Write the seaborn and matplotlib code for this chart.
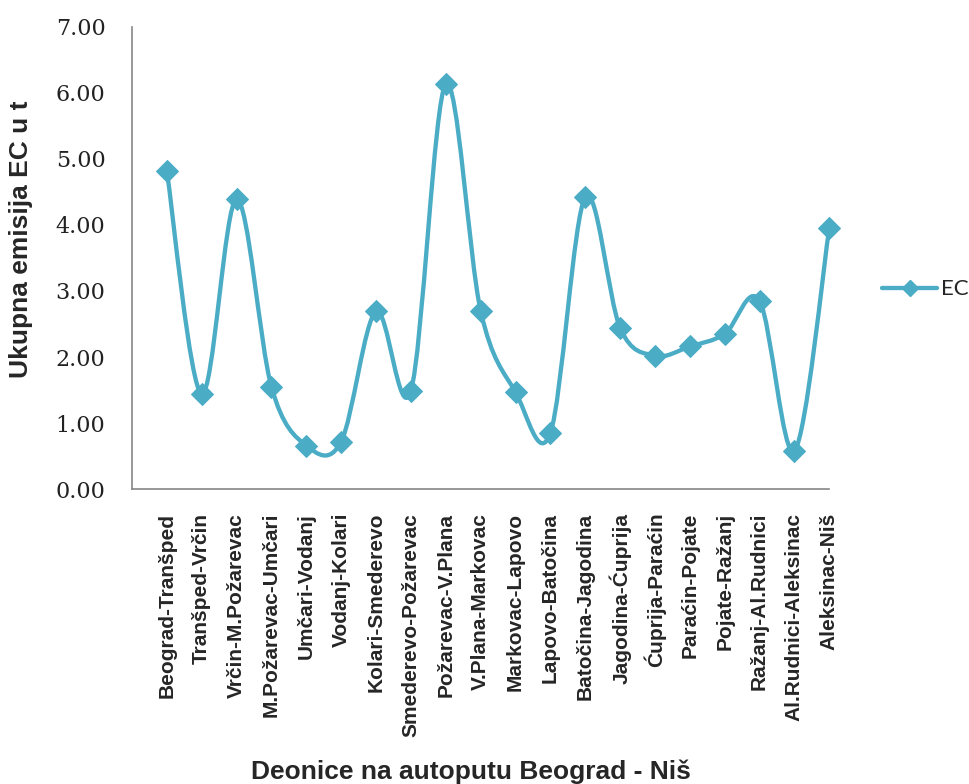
import numpy as np
import pandas as pd
import seaborn as sns
import matplotlib.pyplot as plt
from matplotlib.path import Path
from matplotlib.patches import PathPatch
from matplotlib.lines import Line2D

# Deonice (kategorije) i ukupna emisija EC u t
deonice = [
    "Beograd-Tranšped", "Tranšped-Vrčin", "Vrčin-M.Požarevac", "M.Požarevac-Umčari",
    "Umčari-Vodanj", "Vodanj-Kolari", "Kolari-Smederevo", "Smederevo-Požarevac",
    "Požarevac-V.Plana", "V.Plana-Markovac", "Markovac-Lapovo", "Lapovo-Batočina",
    "Batočina-Jagodina", "Jagodina-Ćuprija", "Ćuprija-Paraćin", "Paraćin-Pojate",
    "Pojate-Ražanj", "Ražanj-Al.Rudnici", "Al.Rudnici-Aleksinac", "Aleksinac-Niš"]
ec = [4.82, 1.44, 4.39, 1.55, 0.66, 0.72, 2.69, 1.49, 6.13, 2.70,
      1.47, 0.85, 4.42, 2.44, 2.02, 2.16, 2.35, 2.85, 0.58, 3.96]
y_ticks = [0, 1, 2, 3, 4, 5, 6, 7]

boja = "#4BACC6"
siva = "#868686"

df = pd.DataFrame({"pozicija": np.arange(len(deonice)), "EC": ec})

sns.set_style("white")
fig = plt.figure(figsize=(9.7, 7.84), dpi=100)
ax = fig.add_axes([0.136, 0.376, 0.719, 0.590])

# Glatka linija (kao Excel "smoothed line") preko Bezier kontrolnih tacaka
x = df["pozicija"].to_numpy(float)
y = df["EC"].to_numpy(float)
verts = [(x[0], y[0])]
codes = [Path.MOVETO]
n = len(x)
for i in range(n - 1):
    p0 = np.array([x[max(i - 1, 0)], y[max(i - 1, 0)]])
    p1 = np.array([x[i], y[i]])
    p2 = np.array([x[i + 1], y[i + 1]])
    p3 = np.array([x[min(i + 2, n - 1)], y[min(i + 2, n - 1)]])
    c1 = p1 + (p2 - p0) / 6
    c2 = p2 - (p3 - p1) / 6
    verts += [tuple(c1), tuple(c2), tuple(p2)]
    codes += [Path.CURVE4] * 3
ax.add_patch(PathPatch(Path(verts, codes), facecolor="none", edgecolor=boja,
                       lw=3.1, capstyle="round", joinstyle="round", zorder=2,
                       clip_on=False))

sns.lineplot(data=df, x="pozicija", y="EC", ax=ax, marker="D", markersize=11,
             linestyle="", color=boja, markeredgecolor=boja, legend=False,
             zorder=3, clip_on=False)

ax.set_xlim(-1, n - 1)
ax.set_ylim(0, 7)
ax.set_xticks(np.arange(-1, n))
ax.set_xticklabels([""] + deonice, rotation=90, fontsize=15, fontweight="bold",
                   family="Liberation Sans")
ax.set_yticks(y_ticks)
ax.set_yticklabels([f"{v:.2f}" for v in y_ticks], fontsize=16, family="DejaVu Serif",
                   color="#222222")

for s in ["top", "right"]:
    ax.spines[s].set_visible(False)
for s in ["left", "bottom"]:
    ax.spines[s].set_color(siva)
    ax.spines[s].set_linewidth(1.2)
ax.tick_params(axis="both", direction="out", length=6, width=1.0, color=siva)
ax.tick_params(axis="x", pad=11)
ax.tick_params(axis="y", pad=13)

ax.set_xlabel("Deonice na autoputu Beograd - Niš", fontsize=19, fontweight="bold",
              family="Liberation Sans")
ax.xaxis.set_label_coords(0.486, -0.585)
ax.set_ylabel("Ukupna emisija EC u t", fontsize=19, fontweight="bold",
              family="Liberation Sans")
ax.yaxis.set_label_coords(-0.142, 0.541)

rucka = Line2D([], [], color=boja, lw=3.1, marker="D", markersize=8)
ax.legend([rucka], ["EC"], loc="center left", bbox_to_anchor=(1.047, 0.432),
          frameon=False, prop={"family": "Lato", "size": 16}, handlelength=2.48,
          handletextpad=0.18)

fig.savefig("out.png", dpi=100)
